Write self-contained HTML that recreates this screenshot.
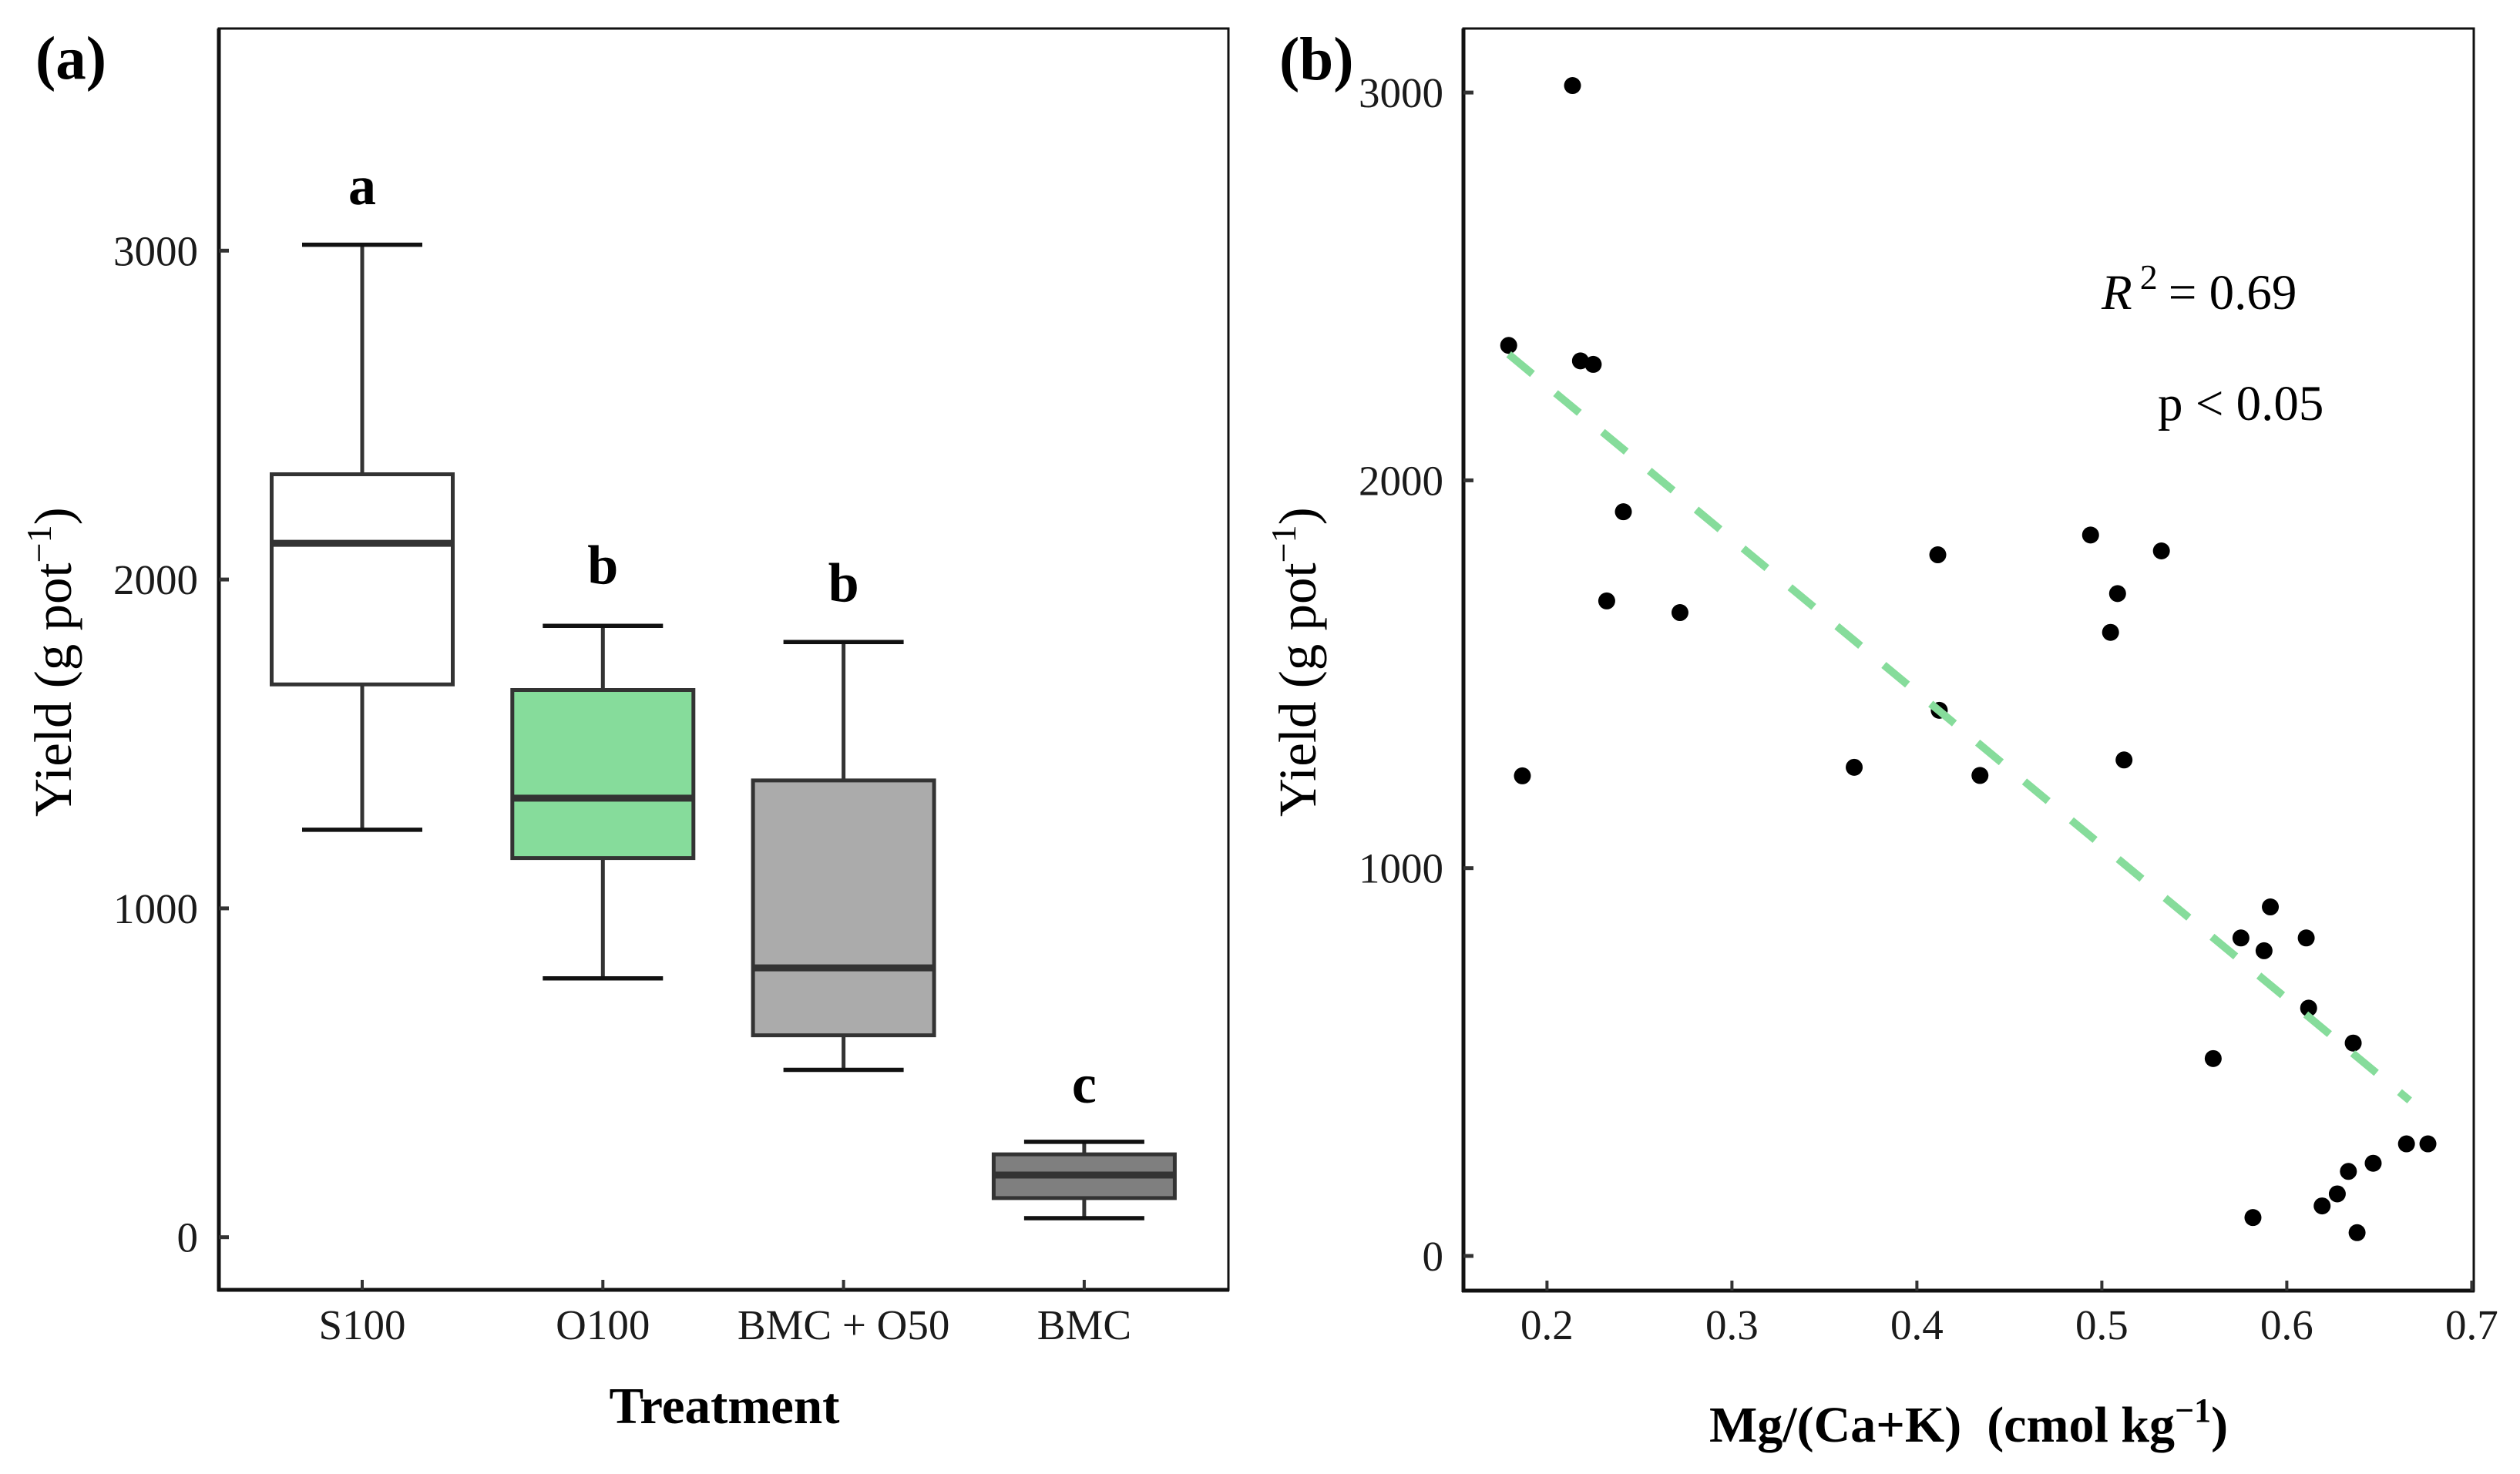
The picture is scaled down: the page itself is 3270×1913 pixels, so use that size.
<!DOCTYPE html>
<html lang="en">
<head>
<meta charset="utf-8">
<title>Yield boxplot and scatter</title>
<style>
  html, body { margin: 0; padding: 0; background: #fff; }
  svg { display: block; }
  text { font-family: "Liberation Serif", serif; fill: #000; }
  .tick { font-size: 55px; fill: #1a1a1a; }
  .title { font-size: 69px; }
  .bold { font-weight: bold; }
</style>
</head>
<body>
<svg id="chart" xmlns="http://www.w3.org/2000/svg" width="3270" height="1913" viewBox="0 0 3270 1913">
  <rect x="0" y="0" width="3270" height="1913" fill="#fff"/>
  <g id="panel-a"></g>
  <g id="panel-b"></g>

  <text class="bold" x="46" y="102" font-size="79">(a)</text>
  <text class="bold" x="1660" y="103" font-size="79">(b)</text>

  <text class="title" transform="translate(92,1060) rotate(-90)">Yield (g pot<tspan font-size="46" dy="-26">−1</tspan><tspan dy="26">)</tspan></text>
  <text class="bold" x="940" y="1847" font-size="67" text-anchor="middle">Treatment</text>

  <text class="title" transform="translate(1707,1060) rotate(-90)">Yield (g pot<tspan font-size="46" dy="-26">−1</tspan><tspan dy="26">)</tspan></text>
  <text class="bold" x="2218" y="1871" font-size="66" xml:space="preserve">Mg/(Ca+K)  (cmol kg<tspan font-size="44" dy="-26">−1</tspan><tspan dy="26">)</tspan></text>

  <text x="2727" y="401" font-size="65"><tspan font-style="italic">R</tspan><tspan font-size="46" dy="-26" dx="10">2</tspan><tspan dy="26" dx="14">= 0.69</tspan></text>
  <text x="2800" y="545" font-size="65">p &lt; 0.05</text>
</svg>

<script>
// Panel (a) data
const categories = ['S100', 'O100', 'BMC + O50', 'BMC'];
const whiskerHigh = [3018, 1859, 1810, 290];
const boxQ3 = [2320, 1664, 1389, 252];
const boxMedian = [2110, 1335, 819, 189];
const boxQ1 = [1681, 1153, 614, 119];
const whiskerLow = [1239, 787, 509, 58];
const boxFills = ['#ffffff', '#86dc9b', '#ababab', '#7f7f7f'];
const sigLetters = ['a', 'b', 'b', 'c'];
const sigValues = [3141, 1987, 1933, 409];
const yTicksA = [0, 1000, 2000, 3000];

// Panel (b) data
const scatterX = [0.2138, 0.1793, 0.2181, 0.225, 0.2413, 0.2323, 0.2719, 0.4113, 0.4939, 0.5322, 0.5085, 0.5047, 0.4121, 0.1867, 0.3661, 0.4341, 0.512, 0.5911, 0.5752, 0.6105, 0.5877, 0.6118, 0.6359, 0.5602, 0.6647, 0.6763, 0.6467, 0.6333, 0.6273, 0.6191, 0.5817, 0.638];
const scatterY = [3018, 2348, 2308, 2299, 1919, 1689, 1659, 1808, 1859, 1818, 1708, 1608, 1407, 1238, 1260, 1239, 1279, 900, 820, 820, 787, 639, 549, 509, 289, 289, 239, 218, 160, 129, 99, 60];
const fitX = [0.1793, 0.6664];
const fitY = [2325, 401];
const xTicksB = [0.2, 0.3, 0.4, 0.5, 0.6, 0.7];
const yTicksB = [0, 1000, 2000, 3000];

const NS = 'http://www.w3.org/2000/svg';
function make(tag, attrs, parent, txt) {
  const e = document.createElementNS(NS, tag);
  for (const k in attrs) e.setAttribute(k, attrs[k]);
  if (txt !== undefined) e.textContent = txt;
  parent.appendChild(e);
  return e;
}

// Axis functions
const xCat = i => 470 + 312.3 * i;
const yA = v => 1605.7 - v * 0.4268;
const xB = v => 2007.4 + (v - 0.2) * 2400;
const yB = v => 1630 - v * 0.5033;

const A = { l: 284, r: 1594, t: 37, b: 1674 };
const B = { l: 1899, r: 3210, t: 37, b: 1675 };
const INK = '#333333';

function frame(parent, P, prefix) {
  const border = make('rect', { x: P.l, y: P.t, width: P.r - P.l, height: P.b - P.t, fill: 'none', stroke: '#111', 'stroke-width': 3 }, parent);
  
  
  const left = make('line', { x1: P.l, x2: P.l, y1: P.t, y2: P.b + 2, stroke: '#111', 'stroke-width': 5 }, parent);
  
  
  const bottom = make('line', { x1: P.l - 2, x2: P.r + 1, y1: P.b, y2: P.b, stroke: '#111', 'stroke-width': 5 }, parent);
  
  
}

function yTickMarks(parent, P, ticks, scale, prefix, labelRight) {
  ticks.forEach(v => {
    const t = make('line', { x1: P.l, x2: P.l + 13, y1: scale(v), y2: scale(v), stroke: INK, 'stroke-width': 5 }, parent);
    
    
    const l = make('text', { x: labelRight, y: scale(v) + 19, 'text-anchor': 'end', class: 'tick' }, parent, String(v));
    
    
  });
}

// Panel (a)
const pa = document.getElementById('panel-a');
frame(pa, A, 'panel-a');
yTickMarks(pa, A, yTicksA, yA, 'panel-a', 257);

const boxW = 235, capW = 156;
categories.forEach((c, i) => {
  const cx = xCat(i);
  const slug = c.toLowerCase().replace(/[^a-z0-9]+/g, '-');

  const tick = make('line', { x1: cx, x2: cx, y1: A.b, y2: A.b - 13, stroke: INK, 'stroke-width': 4 }, pa);
  
  

  const label = make('text', { x: cx, y: 1738, 'text-anchor': 'middle', class: 'tick' }, pa, c);
  
  

  const whisk = make('line', { x1: cx, x2: cx, y1: yA(whiskerHigh[i]), y2: yA(whiskerLow[i]), stroke: INK, 'stroke-width': 5 }, pa);
  
  

  const capHi = make('line', { x1: cx - capW / 2, x2: cx + capW / 2, y1: yA(whiskerHigh[i]), y2: yA(whiskerHigh[i]), stroke: '#111', 'stroke-width': 5.5 }, pa);
  
  

  const capLo = make('line', { x1: cx - capW / 2, x2: cx + capW / 2, y1: yA(whiskerLow[i]), y2: yA(whiskerLow[i]), stroke: '#111', 'stroke-width': 5.5 }, pa);
  
  

  const box = make('rect', { x: cx - boxW / 2, y: yA(boxQ3[i]), width: boxW, height: yA(boxQ1[i]) - yA(boxQ3[i]), fill: boxFills[i], stroke: INK, 'stroke-width': 5 }, pa);
  
  

  const med = make('line', { x1: cx - boxW / 2, x2: cx + boxW / 2, y1: yA(boxMedian[i]), y2: yA(boxMedian[i]), stroke: INK, 'stroke-width': 9 }, pa);
  
  

  const sig = make('text', { x: cx, y: yA(sigValues[i]), 'text-anchor': 'middle', class: 'bold', 'font-size': 72 }, pa, sigLetters[i]);
  
  
});

// Panel (b)
const pb = document.getElementById('panel-b');
frame(pb, B, 'panel-b');
yTickMarks(pb, B, yTicksB, yB, 'panel-b', 1873);

xTicksB.forEach(v => {
  const t = make('line', { x1: xB(v), x2: xB(v), y1: B.b, y2: B.b - 13, stroke: INK, 'stroke-width': 4 }, pb);
  
  
  const l = make('text', { x: xB(v), y: 1738, 'text-anchor': 'middle', class: 'tick' }, pb, v.toFixed(1));
  
  
});

scatterX.forEach((x, i) => {
  const dot = make('circle', { cx: xB(x), cy: yB(scatterY[i]), r: 11, fill: '#000' }, pb);
  
  
});

const fit = make('line', { x1: xB(fitX[0]), y1: yB(fitY[0]), x2: xB(fitX[1]), y2: yB(fitY[1]), stroke: '#86dc9b', 'stroke-width': 10, 'stroke-dasharray': '40 39' }, pb);


</script>
</body>
</html>
